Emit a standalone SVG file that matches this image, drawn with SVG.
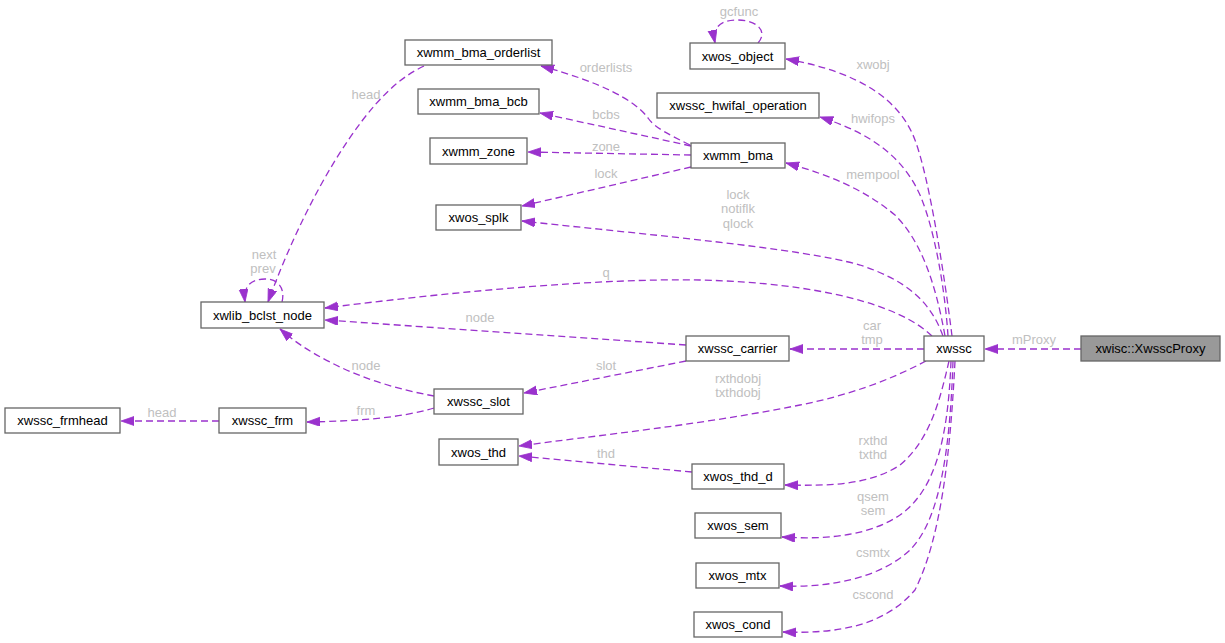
<svg xmlns="http://www.w3.org/2000/svg" width="1225" height="643" viewBox="0 0 1225 643">
<defs>
<marker id="ah" markerUnits="userSpaceOnUse" markerWidth="14" markerHeight="10" refX="13" refY="4.5" orient="auto">
<path d="M0,0 L13,4.5 L0,9 z" fill="#9a32cd" stroke="#9a32cd" stroke-width="0.8"/>
</marker>
</defs>
<style>
.n rect{fill:#fff;stroke:#666;stroke-width:1.3}
.n text{font-family:"Liberation Sans",Arial,sans-serif;font-size:13px;fill:#000;text-anchor:middle}
#edges path{fill:none;stroke:#9a32cd;stroke-width:1.3;stroke-dasharray:7,4;marker-end:url(#ah)}
#edges text{font-family:"Liberation Sans",Arial,sans-serif;font-size:13px;fill:#c0c0c0;text-anchor:middle}
</style>
<rect width="1225" height="643" fill="#fff"/>
<g id="edges">
<path d="M1081,349 L985,349"/>
<text x="1034" y="344">mProxy</text>
<path d="M924,349 L790,349"/>
<text x="872" y="330">car</text><text x="872" y="344">tmp</text>
<path d="M952,336 C945,280 930,180 915,140 C900,100 860,72 786,59"/>
<text x="873" y="69">xwobj</text>
<path d="M948,336 C945,290 935,230 920,195 C900,150 860,130 820,117"/>
<text x="873" y="123">hwifops</text>
<path d="M945,336 C935,280 920,240 895,215 C865,190 830,175 786,163"/>
<text x="873" y="179">mempool</text>
<path d="M943,336 C930,300 905,280 860,265 C800,248 650,235 522,221"/>
<text x="738" y="199">lock</text><text x="738" y="213">notiflk</text><text x="738" y="228">qlock</text>
<path d="M932,336 C900,305 820,283 700,280 C600,278 450,292 325,308"/>
<text x="606" y="277">q</text>
<path d="M686,345 L325,320"/>
<text x="480" y="322">node</text>
<path d="M686,361 L524,393"/>
<text x="606" y="370">slot</text>
<path d="M926,361 C890,380 850,395 800,405 C700,425 600,435 519,446"/>
<text x="738" y="383">rxthdobj</text><text x="738" y="397">txthdobj</text>
<path d="M692,472 L519,456"/>
<text x="606" y="458">thd</text>
<path d="M949,361 C940,400 930,440 900,465 C870,485 830,486 785,485"/>
<text x="873" y="445">rxthd</text><text x="873" y="459">txthd</text>
<path d="M951,361 C948,440 935,490 900,515 C870,535 830,540 782,537"/>
<text x="873" y="501">qsem</text><text x="873" y="515">sem</text>
<path d="M953,361 C950,450 940,520 910,550 C880,578 830,588 780,586"/>
<text x="873" y="557">csmtx</text>
<path d="M955,361 C950,460 940,540 915,590 C885,625 840,634 783,632"/>
<text x="873" y="599">cscond</text>
<path d="M690,145 C670,135 655,128 648,118 C635,100 600,82 541,66"/>
<text x="606" y="72">orderlists</text>
<path d="M691,146 L540,113"/>
<text x="606" y="119">bcbs</text>
<path d="M691,155 L528,152"/>
<text x="606" y="151">zone</text>
<path d="M691,167 L522,206"/>
<text x="606" y="178">lock</text>
<path d="M424,66 C405,75 390,88 375,105 C340,145 300,215 268,302"/>
<text x="366" y="99">head</text>
<path d="M282,302 C285,290 280,279 265,279 C252,279 243,285 245,302"/>
<text x="264" y="259">next</text><text x="263" y="273">prev</text>
<path d="M758,43 C768,32 758,20 737,20 C720,20 712,28 715,43"/>
<text x="739" y="16">gcfunc</text>
<path d="M434,396 C400,390 360,378 330,362 C310,352 295,342 280,329"/>
<text x="366" y="370">node</text>
<path d="M434,408 C400,418 360,421 307,422"/>
<text x="366" y="415">frm</text>
<path d="M219,421 L121,421"/>
<text x="162" y="417">head</text>
</g>
<g id="n_proxy" class="n"><rect x="1081" y="336" width="139" height="25" style="fill:#999"/><text x="1150.5" y="353">xwisc::XwsscProxy</text></g>
<g id="n_xwssc" class="n"><rect x="924" y="336" width="60" height="25"/><text x="954" y="353">xwssc</text></g>
<g id="n_carrier" class="n"><rect x="686" y="336" width="103" height="25"/><text x="737.5" y="353">xwssc_carrier</text></g>
<g id="n_object" class="n"><rect x="690" y="43" width="95" height="26"/><text x="737.5" y="60.5">xwos_object</text></g>
<g id="n_hwifal" class="n"><rect x="657" y="93" width="162" height="25"/><text x="738" y="110">xwssc_hwifal_operation</text></g>
<g id="n_bma" class="n"><rect x="691" y="143" width="94" height="25"/><text x="738" y="160">xwmm_bma</text></g>
<g id="n_orderlist" class="n"><rect x="405" y="40" width="147" height="25"/><text x="478.5" y="57">xwmm_bma_orderlist</text></g>
<g id="n_bcb" class="n"><rect x="418" y="89" width="121" height="25"/><text x="478.5" y="106">xwmm_bma_bcb</text></g>
<g id="n_zone" class="n"><rect x="430" y="138" width="97" height="26"/><text x="478.5" y="155.5">xwmm_zone</text></g>
<g id="n_splk" class="n"><rect x="436" y="205" width="85" height="25"/><text x="478.5" y="222">xwos_splk</text></g>
<g id="n_bclst" class="n"><rect x="201" y="302" width="123" height="26"/><text x="262.5" y="319.5">xwlib_bclst_node</text></g>
<g id="n_slot" class="n"><rect x="434" y="389" width="89" height="25"/><text x="478.5" y="406">xwssc_slot</text></g>
<g id="n_frm" class="n"><rect x="219" y="408" width="87" height="25"/><text x="262.5" y="425">xwssc_frm</text></g>
<g id="n_frmhead" class="n"><rect x="5" y="408" width="115" height="25"/><text x="62.5" y="425">xwssc_frmhead</text></g>
<g id="n_thd" class="n"><rect x="439" y="439" width="79" height="26"/><text x="478.5" y="456.5">xwos_thd</text></g>
<g id="n_thd_d" class="n"><rect x="692" y="464" width="92" height="25"/><text x="738" y="481">xwos_thd_d</text></g>
<g id="n_sem" class="n"><rect x="695" y="513" width="86" height="25"/><text x="738" y="530">xwos_sem</text></g>
<g id="n_mtx" class="n"><rect x="696" y="563" width="83" height="25"/><text x="737.5" y="580">xwos_mtx</text></g>
<g id="n_cond" class="n"><rect x="694" y="612" width="88" height="25"/><text x="738" y="629">xwos_cond</text></g>
</svg>
